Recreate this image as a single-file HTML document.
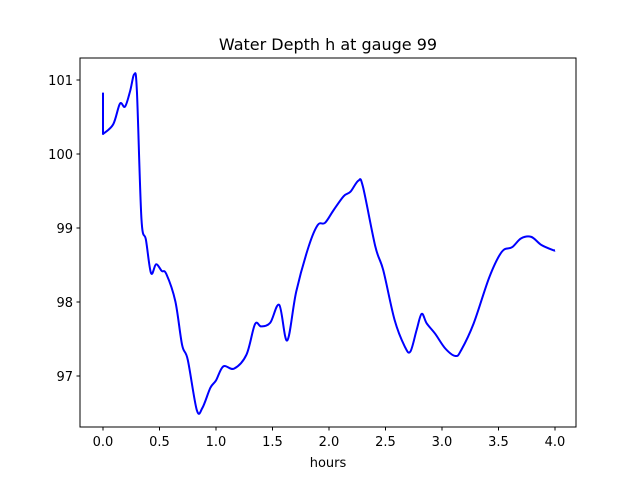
<!DOCTYPE html>
<html><head><meta charset="utf-8"><style>
body{margin:0;background:#fff;font-family:"DejaVu Sans","Liberation Sans",sans-serif}
svg text{font-family:"DejaVu Sans","Liberation Sans",sans-serif}
</style></head><body>
<svg id="chart" width="640" height="480" viewBox="0 0 640 480" xmlns="http://www.w3.org/2000/svg">
<rect width="640" height="480" fill="#fff"/>
<text x="328" y="50" text-anchor="middle" font-size="16">Water Depth h at gauge 99</text>
<text x="328" y="467" text-anchor="middle" font-size="13">hours</text>
<g id="ticks"></g>
<path id="line" fill="none" stroke="#0000ff" stroke-width="2" stroke-linejoin="round"/>
<rect x="80" y="58" width="496" height="369" fill="none" stroke="#000" stroke-width="1"/>
</svg>
<script>
const xs=[0,0,0.09,0.15,0.195,0.24,0.277,0.30,0.34,0.38,0.425,0.47,0.52,0.56,0.64,0.70,0.75,0.83,0.88,0.95,1.0,1.065,1.16,1.27,1.345,1.40,1.48,1.56,1.63,1.71,1.82,1.90,1.965,2.04,2.13,2.19,2.26,2.30,2.41,2.48,2.58,2.67,2.72,2.775,2.82,2.865,2.94,3.03,3.12,3.17,3.28,3.42,3.53,3.62,3.70,3.79,3.88,3.985,4.0];
const ys=[100.83,100.27,100.40,100.68,100.64,100.85,101.08,100.85,99.13,98.84,98.39,98.51,98.42,98.38,98.01,97.42,97.22,96.54,96.57,96.84,96.94,97.13,97.10,97.29,97.70,97.67,97.72,97.96,97.48,98.14,98.75,99.04,99.07,99.24,99.43,99.49,99.64,99.56,98.75,98.43,97.76,97.40,97.33,97.62,97.84,97.71,97.57,97.37,97.27,97.35,97.71,98.34,98.68,98.74,98.86,98.88,98.77,98.70,98.70];
const xTicks=[0,0.5,1,1.5,2,2.5,3,3.5,4];
const xTickLabels=["0.0","0.5","1.0","1.5","2.0","2.5","3.0","3.5","4.0"];
const yTicks=[97,98,99,100,101];
const yTickLabels=["97","98","99","100","101"];
const X=v=>103+v*113, Y=v=>80+(101-v)*74;
const NS="http://www.w3.org/2000/svg";
const g=document.getElementById('ticks');
xTicks.forEach((t,i)=>{
 const l=document.createElementNS(NS,'line');
 
 
 l.setAttribute('x1',X(t));l.setAttribute('x2',X(t));l.setAttribute('y1',427);l.setAttribute('y2',430.5);l.setAttribute('stroke','#000');g.appendChild(l);
 const tx=document.createElementNS(NS,'text');
 
 
 tx.setAttribute('x',X(t));tx.setAttribute('y',446);tx.setAttribute('text-anchor','middle');tx.setAttribute('font-size','13');tx.textContent=xTickLabels[i];g.appendChild(tx);
});
yTicks.forEach((t,i)=>{
 const l=document.createElementNS(NS,'line');
 
 
 l.setAttribute('x1',76.5);l.setAttribute('x2',80);l.setAttribute('y1',Y(t));l.setAttribute('y2',Y(t));l.setAttribute('stroke','#000');g.appendChild(l);
 const tx=document.createElementNS(NS,'text');
 
 
 tx.setAttribute('x',73);tx.setAttribute('y',Y(t)+5);tx.setAttribute('text-anchor','end');tx.setAttribute('font-size','13');tx.textContent=yTickLabels[i];g.appendChild(tx);
});
const P=xs.map((x,i)=>[X(x),Y(ys[i])]);
let d=`M${P[0][0]},${P[0][1]} L${P[1][0]},${P[1][1]}`;
for(let i=1;i<P.length-1;i++){
 const p0=P[Math.max(1,i-1)],p1=P[i],p2=P[i+1],p3=P[Math.min(P.length-1,i+2)];
 const c1=[p1[0]+(p2[0]-p0[0])/6,p1[1]+(p2[1]-p0[1])/6];
 const c2=[p2[0]-(p3[0]-p1[0])/6,p2[1]-(p3[1]-p1[1])/6];
 d+=` C${c1[0]},${c1[1]} ${c2[0]},${c2[1]} ${p2[0]},${p2[1]}`;
}
document.getElementById('line').setAttribute('d',d);
</script>
</body></html>
